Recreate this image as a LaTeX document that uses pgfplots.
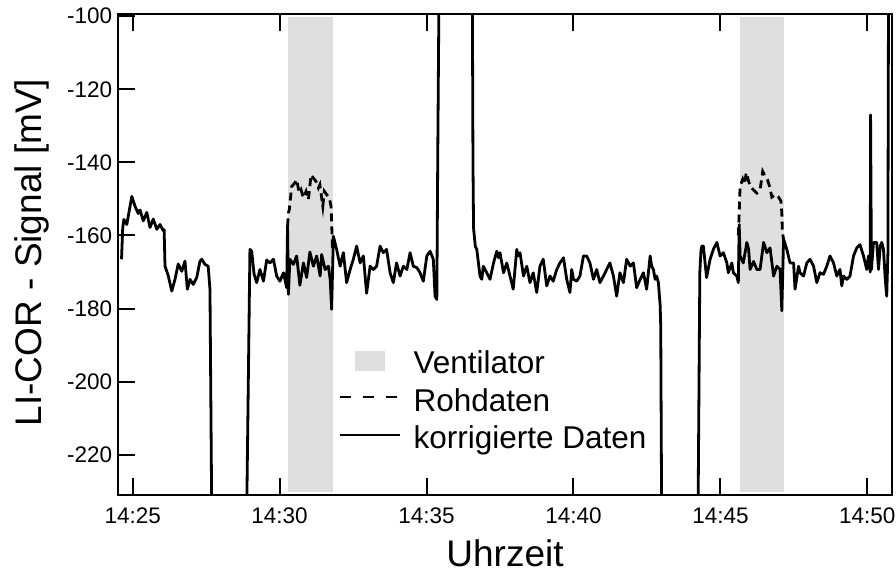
\documentclass[border=0pt]{standalone}
\usepackage{fontspec}
\setmainfont{Liberation Sans}
\usepackage{pgfplots}
\pgfplotsset{compat=1.18}
\definecolor{ventgray}{HTML}{DFDFDF}
\begin{document}
\begin{tikzpicture}
\useasboundingbox (-117.7pt,-78pt) rectangle (778.3pt,495pt);
\begin{axis}[
  name=ax,
  at={(0pt,0pt)}, anchor=south west,
  scale only axis, width=774.6pt, height=481pt,
  xmin=24.49, xmax=50.85, ymin=-231, ymax=-99.4,
  axis line style={line width=2pt},
  every tick/.style={line width=2pt, black},
  tick align=inside, major tick length=17pt,
  ytick pos=left,
  xtick={25,30,35,40,45,50},
  xticklabels={14:25,14:30,14:35,14:40,14:45,14:50},
  ytick={-220,-200,-180,-160,-140,-120,-100},
  /pgf/number format/assume math mode=true,
  ticklabel style={font=\fontsize{22.5}{26}\selectfont},
  xticklabel style={yshift=-9pt},
  yticklabel style={xshift=-2pt},
  xlabel={Uhrzeit}, ylabel={LI-COR - Signal [mV]},
  label style={font=\fontsize{37}{44}\selectfont},
  xlabel style={at={([yshift=-71pt]axis description cs:0.5,0)}, anchor=base},
  ylabel style={at={([xshift=-75.7pt,yshift=2pt]axis description cs:0,0.5)}, anchor=base},
  legend style={at={(axis description cs:0.2857,0.305)}, anchor=north west,
    draw=none, fill=none, font=\fontsize{31.5}{36}\selectfont,
    row sep=3pt, inner sep=0pt,
    nodes={inner sep=2pt, text height=23pt, text depth=7.5pt},
    /tikz/every odd column/.append style={column sep=10pt}},
  legend cell align=left,
]
% Ventilator periods
\addplot[fill=ventgray, draw=none,
  legend image code/.code={\fill[ventgray] (15pt,-5pt) rectangle (45pt,15pt);}]
  coordinates {(30.28,-230.2) (30.28,-100.3) (31.81,-100.3) (31.81,-230.2)} -- cycle;
\addlegendentry{Ventilator}
\addplot[fill=ventgray, draw=none, forget plot]
  coordinates {(45.65,-230.2) (45.65,-100.3) (47.17,-100.3) (47.17,-230.2)} -- cycle;
% Rohdaten (raw) - differs from corrected only during ventilation
\addplot[black, line width=2.8pt, dash pattern=on 8pt off 5pt,
  legend image code/.code={\draw[black, line width=2.4pt, dash pattern=on 11pt off 12pt] (0pt,6pt) -- (60pt,6pt);}]
  coordinates {(30.27,-157.5) (30.30,-153.8) (30.33,-152.9) (30.41,-146.6) (30.52,-145.6)
  (30.58,-144.7) (30.67,-148.4) (30.73,-147.5) (30.81,-149.7) (30.90,-147.9) (30.98,-150.2)
  (31.07,-143.4) (31.15,-144.3) (31.24,-145.2) (31.32,-147.0) (31.37,-146.1) (31.47,-152.0)
  (31.52,-147.9) (31.60,-148.8) (31.69,-149.7) (31.75,-152.0) (31.77,-156.1) (31.80,-164) (31.83,-160.2)};
\addlegendentry{Rohdaten}
\addplot[black, line width=2.8pt, dash pattern=on 8pt off 5pt, forget plot]
  coordinates {(45.61,-160) (45.64,-153.8) (45.67,-146.5) (45.76,-144.6) (45.82,-146)
  (45.88,-142.8) (46.01,-146.6) (46.12,-147.5) (46.24,-148.4) (46.35,-147.5) (46.44,-142.5)
  (46.52,-143.8) (46.60,-144.7) (46.69,-147) (46.75,-149.5) (46.86,-148.8) (46.98,-149.5)
  (47.06,-150.6) (47.09,-153.8) (47.11,-159.2) (47.15,-161)};
% korrigierte Daten
\addplot[black, line width=2.8pt, line join=round,
  legend image code/.code={\draw[black, line width=2.4pt] (0pt,6pt) -- (60pt,6pt);}]
  coordinates {
  (24.62,-166.5) (24.66,-158) (24.70,-155.6) (24.80,-157) (24.97,-149.3) (25.08,-152)
  (25.19,-154) (25.25,-153) (25.36,-156) (25.48,-153.7) (25.59,-157.8) (25.70,-155.5)
  (25.82,-158.3) (25.93,-157) (26.04,-158.7) (26.07,-158.4) (26.10,-168.4) (26.21,-171)
  (26.33,-175.2) (26.44,-172) (26.55,-167.8) (26.67,-169.8) (26.78,-167) (26.86,-174.7)
  (26.95,-172) (27.06,-173.4) (27.18,-171.5) (27.29,-167) (27.35,-166.5) (27.46,-167.9)
  (27.57,-168.4) (27.63,-174.7) (27.69,-236)
  (28.88,-236) (28.99,-163.8) (29.05,-164.3) (29.13,-170.5) (29.22,-172.9) (29.33,-169.3)
  (29.45,-172.5) (29.56,-166.7) (29.67,-167.5) (29.79,-166.5) (29.90,-171.1) (30.01,-172.5)
  (30.13,-170.2) (30.24,-174.3) (30.27,-157.5) (30.30,-176.1) (30.35,-166.5) (30.47,-167.9)
  (30.58,-165.6) (30.69,-173.6) (30.81,-167.5) (30.92,-171.5) (31.03,-164.5) (31.15,-168.4)
  (31.26,-165.6) (31.38,-171.1) (31.43,-165.2) (31.55,-169.3) (31.66,-168.4) (31.72,-172)
  (31.77,-180.2) (31.83,-160.2) (31.94,-163.8) (32.06,-168.4) (32.17,-164.7) (32.28,-172.9)
  (32.40,-169.3) (32.51,-166.5) (32.62,-162.9) (32.74,-167.5) (32.85,-165.6) (32.96,-175.8)
  (33.08,-168.4) (33.19,-169.3) (33.30,-168.4) (33.42,-162.9) (33.53,-164.7) (33.64,-163.8)
  (33.76,-170.2) (33.87,-172.9) (33.98,-167.5) (34.10,-171.1) (34.21,-168.4) (34.33,-169.3)
  (34.44,-164.7) (34.55,-168.4) (34.67,-168.8) (34.78,-170.2) (34.89,-172.5) (35.01,-165.6)
  (35.12,-164.3) (35.23,-166.5) (35.29,-176.6) (35.35,-177.5) (35.38,-140) (35.42,-97)
  (36.56,-97) (36.58,-140) (36.60,-158) (36.66,-163) (36.71,-163.8) (36.82,-171.1)
  (36.88,-172) (36.93,-168.4) (37.05,-170.2) (37.16,-172) (37.28,-167.5) (37.39,-164.3)
  (37.45,-166.1) (37.50,-164.7) (37.62,-170.2) (37.73,-167.5) (37.84,-171.1) (37.95,-174.7)
  (38.07,-163.8) (38.12,-165.6) (38.18,-164.7) (38.30,-171.1) (38.41,-168.4) (38.52,-172.9)
  (38.63,-170.2) (38.75,-175.6) (38.86,-168.4) (38.97,-166.5) (39.09,-173.8) (39.20,-171.1)
  (39.31,-172.5) (39.43,-169.3) (39.54,-167.5) (39.66,-166.1) (39.77,-172) (39.88,-175.6)
  (39.94,-169.3) (40.00,-172) (40.11,-172.5) (40.22,-171.1) (40.34,-165.6) (40.45,-165.6)
  (40.56,-167.5) (40.68,-172) (40.79,-169.3) (40.90,-172.9) (41.02,-171.1) (41.13,-169.3)
  (41.24,-167.5) (41.36,-171.1) (41.47,-176.6) (41.58,-170.2) (41.70,-172.9) (41.81,-166.5)
  (41.93,-168.4) (42.04,-167.5) (42.15,-174.3) (42.27,-172) (42.38,-170.2) (42.49,-174.7)
  (42.61,-165.6) (42.66,-168.4) (42.72,-169.3) (42.78,-172) (42.83,-171.1) (42.89,-172.9)
  (42.95,-179.1) (42.97,-185) (43.00,-236)
  (44.24,-236) (44.30,-170) (44.34,-164) (44.37,-162.9) (44.42,-162.9) (44.53,-171.5)
  (44.65,-166.5) (44.76,-163.8) (44.88,-161.9) (44.99,-165.6) (45.10,-164.7) (45.22,-167.5)
  (45.27,-170.2) (45.39,-167.5) (45.44,-170.2) (45.56,-171.1) (45.61,-172.9) (45.64,-157)
  (45.67,-165.6) (45.78,-167.5) (45.90,-161.9) (45.96,-163.8) (46.01,-169.3) (46.13,-167.1)
  (46.24,-169.3) (46.35,-169.3) (46.47,-161.9) (46.58,-164.7) (46.69,-163.4) (46.81,-171.1)
  (46.92,-168.4) (47.03,-169.3) (47.09,-180.6) (47.15,-161) (47.26,-163.8) (47.37,-167.5)
  (47.49,-167.5) (47.54,-174.7) (47.66,-168.4) (47.71,-170.2) (47.83,-171.1) (47.94,-167.5)
  (48.05,-166.5) (48.17,-168.4) (48.28,-172.9) (48.39,-170.2) (48.51,-170.6) (48.62,-168.4)
  (48.73,-165.6) (48.85,-167.5) (48.96,-171.1) (49.07,-169.3) (49.13,-173.8) (49.19,-171.1)
  (49.30,-172) (49.41,-171.1) (49.53,-165.6) (49.64,-163.4) (49.75,-162.5) (49.87,-165.6)
  (49.98,-169.3) (50.04,-165.6) (50.10,-170) (50.11,-127) (50.14,-169.3) (50.21,-161.9)
  (50.32,-161.9) (50.38,-169.3) (50.44,-162.9) (50.49,-161.9) (50.55,-163.8) (50.61,-172)
  (50.66,-176.6) (50.70,-165) (50.72,-97)};
\addlegendentry{korrigierte Daten}
\end{axis}
\end{tikzpicture}
\end{document}
